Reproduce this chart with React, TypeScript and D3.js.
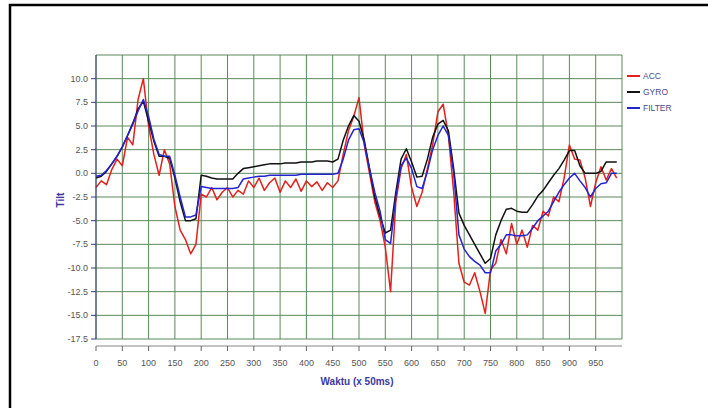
import React from "react";
import * as d3 from "d3";

const xTicks = [0, 50, 100, 150, 200, 250, 300, 350, 400, 450, 500, 550, 600, 650, 700, 750, 800, 850, 900, 950];
const yTicks = [10, 7.5, 5, 2.5, 0, -2.5, -5, -7.5, -10, -12.5, -15, -17.5];
const seriesNames = ["ACC", "GYRO", "FILTER"];
const seriesColors = ["#e3201b", "#111111", "#2323d0"];

const xs = d3.range(0, 1000, 10);

const acc = [
  -1.5, -0.8, -1.2, 0.4, 1.5, 0.8, 3.8, 3.0, 7.8, 10.0,
  5.0, 2.0, -0.2, 2.5, 1.0, -3.5, -6.0, -7.0, -8.5, -7.5,
  -2.2, -2.5, -1.5, -2.8, -2.0, -1.5, -2.5, -1.8, -2.2, -0.8,
  -1.5, -0.5, -1.8, -1.0, -0.5, -2.0, -0.8, -1.5, -0.6, -1.9,
  -0.8, -1.4, -0.9, -1.8, -1.0, -1.5, -0.8, 2.0, 4.5, 6.0,
  8.0, 3.0, 0.0, -3.0, -5.0, -7.8, -12.5, -3.0, 0.5, 2.0,
  -1.5, -3.5, -2.0, 0.5, 3.0, 6.5, 7.3, 4.0, -2.0, -9.5,
  -11.5, -11.8, -10.5, -12.5, -14.8, -10.2, -9.5, -7.0, -8.5, -5.3,
  -7.5, -6.0, -7.8, -5.5, -6.0, -4.0, -4.5, -2.5, -3.0, -0.5,
  3.0, 1.5, 1.4, -0.5, -3.5, -1.0, 0.7, -0.7, 0.5, -0.5,
];

const gyro = [
  -0.5, -0.3, 0.2, 1.0, 1.8, 2.8, 4.0, 5.3, 6.8, 7.6,
  5.5, 3.4, 1.8, 1.8, 1.6, -0.5, -3.0, -5.0, -5.0, -4.8,
  -0.2, -0.3, -0.5, -0.6, -0.6, -0.6, -0.6, 0.0, 0.5, 0.6,
  0.7, 0.8, 0.9, 1.0, 1.0, 1.0, 1.1, 1.1, 1.1, 1.2,
  1.2, 1.2, 1.3, 1.3, 1.3, 1.2, 1.5, 3.5, 5.0, 6.1,
  5.5, 3.5, 0.5, -2.5, -4.5, -6.3, -6.0, -2.0, 1.5, 2.6,
  1.2, -0.4, -0.3, 1.5, 3.8, 5.2, 5.6, 4.5, 0.5, -4.2,
  -5.5, -6.5, -7.5, -8.5, -9.5, -9.0, -6.5, -5.0, -3.8, -3.7,
  -4.0, -4.1, -4.1, -3.3, -2.4, -1.8, -1.0, -0.2, 0.5, 1.4,
  2.4, 2.4, 0.8, 0.0, 0.0, 0.0, 0.2, 1.2, 1.2, 1.2,
];

const filter = [
  -0.3, -0.2, 0.3, 1.0, 1.8, 2.8, 4.0, 5.2, 6.6, 7.8,
  6.0, 3.6, 2.0, 1.8, 1.8, -0.2, -2.5, -4.6, -4.6, -4.4,
  -1.4, -1.5, -1.6, -1.6, -1.6, -1.6, -1.6, -1.5, -0.6, -0.5,
  -0.4, -0.3, -0.3, -0.2, -0.2, -0.2, -0.2, -0.2, -0.2, -0.1,
  -0.1, -0.1, -0.1, -0.1, -0.1, -0.1, 0.0, 1.5, 3.5, 4.6,
  4.7, 3.2, 0.5, -2.0, -4.0, -7.0, -7.4, -2.5, 0.8, 1.6,
  0.5, -1.4, -1.6, 0.2, 2.5, 4.0, 5.0, 4.0, 0.0, -6.5,
  -8.0, -8.8, -9.3, -9.7, -10.5, -10.5, -8.2, -7.5, -6.5, -6.5,
  -6.6, -6.6, -6.5, -5.8, -5.0, -4.5, -4.0, -3.0, -2.0, -1.2,
  -0.5, 0.0, -0.8, -1.5, -2.5, -1.6, -1.1, -1.0, 0.0, 0.0,
];

const seriesData = [acc, gyro, filter];

export default function App() {
  const left = 96, right = 622, top = 55, bottom = 339;
  const x = d3.scaleLinear().domain([0, 1000]).range([left, right]);
  const y = d3.scaleLinear().domain([-17.5, 12.5]).range([bottom, top]);
  const line = d3
    .line<[number, number]>()
    .x((d) => x(d[0]))
    .y((d) => y(d[1]))
    .curve(d3.curveLinear);
  const gridX = d3.range(0, 1001, 50);
  const gridY = d3.range(-17.5, 12.6, 2.5);
  const xAxisY = 346;
  const font = "'Liberation Sans', Arial, sans-serif";
  return (
    <svg
      width={708}
      height={408}
      style={{ position: "absolute", left: 0, top: 0, background: "#fff" }}
    >
      <rect x={0} y={0} width={708} height={408} fill="#fff" />
      <rect x={10} y={5} width={800} height={500} fill="none" stroke="#000" strokeWidth={2.5} />
      {gridX.map((g) => (
        <line key={"gx" + g} x1={x(g)} x2={x(g)} y1={top} y2={bottom} stroke="#5a8a5a" strokeWidth={1} />
      ))}
      {gridY.map((g) => (
        <line key={"gy" + g} x1={left} x2={right} y1={y(g)} y2={y(g)} stroke="#5a8a5a" strokeWidth={1} />
      ))}
      {seriesData.map((s, i) => (
        <path
          key={seriesNames[i]}
          d={line(xs.map((xv, j) => [xv, s[j]] as [number, number])) || ""}
          fill="none"
          stroke={seriesColors[i]}
          strokeWidth={1.5}
          strokeLinejoin="round"
        />
      ))}
      <line x1={left} x2={left} y1={top} y2={bottom} stroke="#3a3a8a" strokeWidth={1} />
      {yTicks.map((t) => (
        <g key={"yt" + t}>
          <line x1={left - 5} x2={left} y1={y(t)} y2={y(t)} stroke="#3a3a8a" strokeWidth={1} />
          <text x={left - 8} y={y(t) + 3} textAnchor="end" fontSize={9} fill="#555" fontFamily={font}>
            {t.toFixed(1)}
          </text>
        </g>
      ))}
      <line x1={left} x2={right} y1={xAxisY} y2={xAxisY} stroke="#888" strokeWidth={1} />
      {xTicks.map((t) => (
        <g key={"xt" + t}>
          <line x1={x(t)} x2={x(t)} y1={xAxisY} y2={xAxisY + 5} stroke="#666" strokeWidth={1} />
          <text x={x(t)} y={xAxisY + 20} textAnchor="middle" fontSize={9} fill="#555" fontFamily={font}>
            {t}
          </text>
        </g>
      ))}
      <text x={357} y={385} textAnchor="middle" fontSize={10} fontWeight="bold" fill="#3a3aa0" fontFamily={font}>
        Waktu (x 50ms)
      </text>
      <text
        transform="translate(64,200) rotate(-90)"
        textAnchor="middle"
        fontSize={10}
        fontWeight="bold"
        fill="#3a3aa0"
        fontFamily={font}
      >
        Tilt
      </text>
      {seriesNames.map((n, i) => (
        <g key={"lg" + n}>
          <line x1={627} x2={640} y1={76 + i * 16} y2={76 + i * 16} stroke={seriesColors[i]} strokeWidth={2} />
          <text x={643} y={79 + i * 16} fontSize={8.5} fill="#4a4a8a" fontFamily={font}>
            {n}
          </text>
        </g>
      ))}
    </svg>
  );
}
